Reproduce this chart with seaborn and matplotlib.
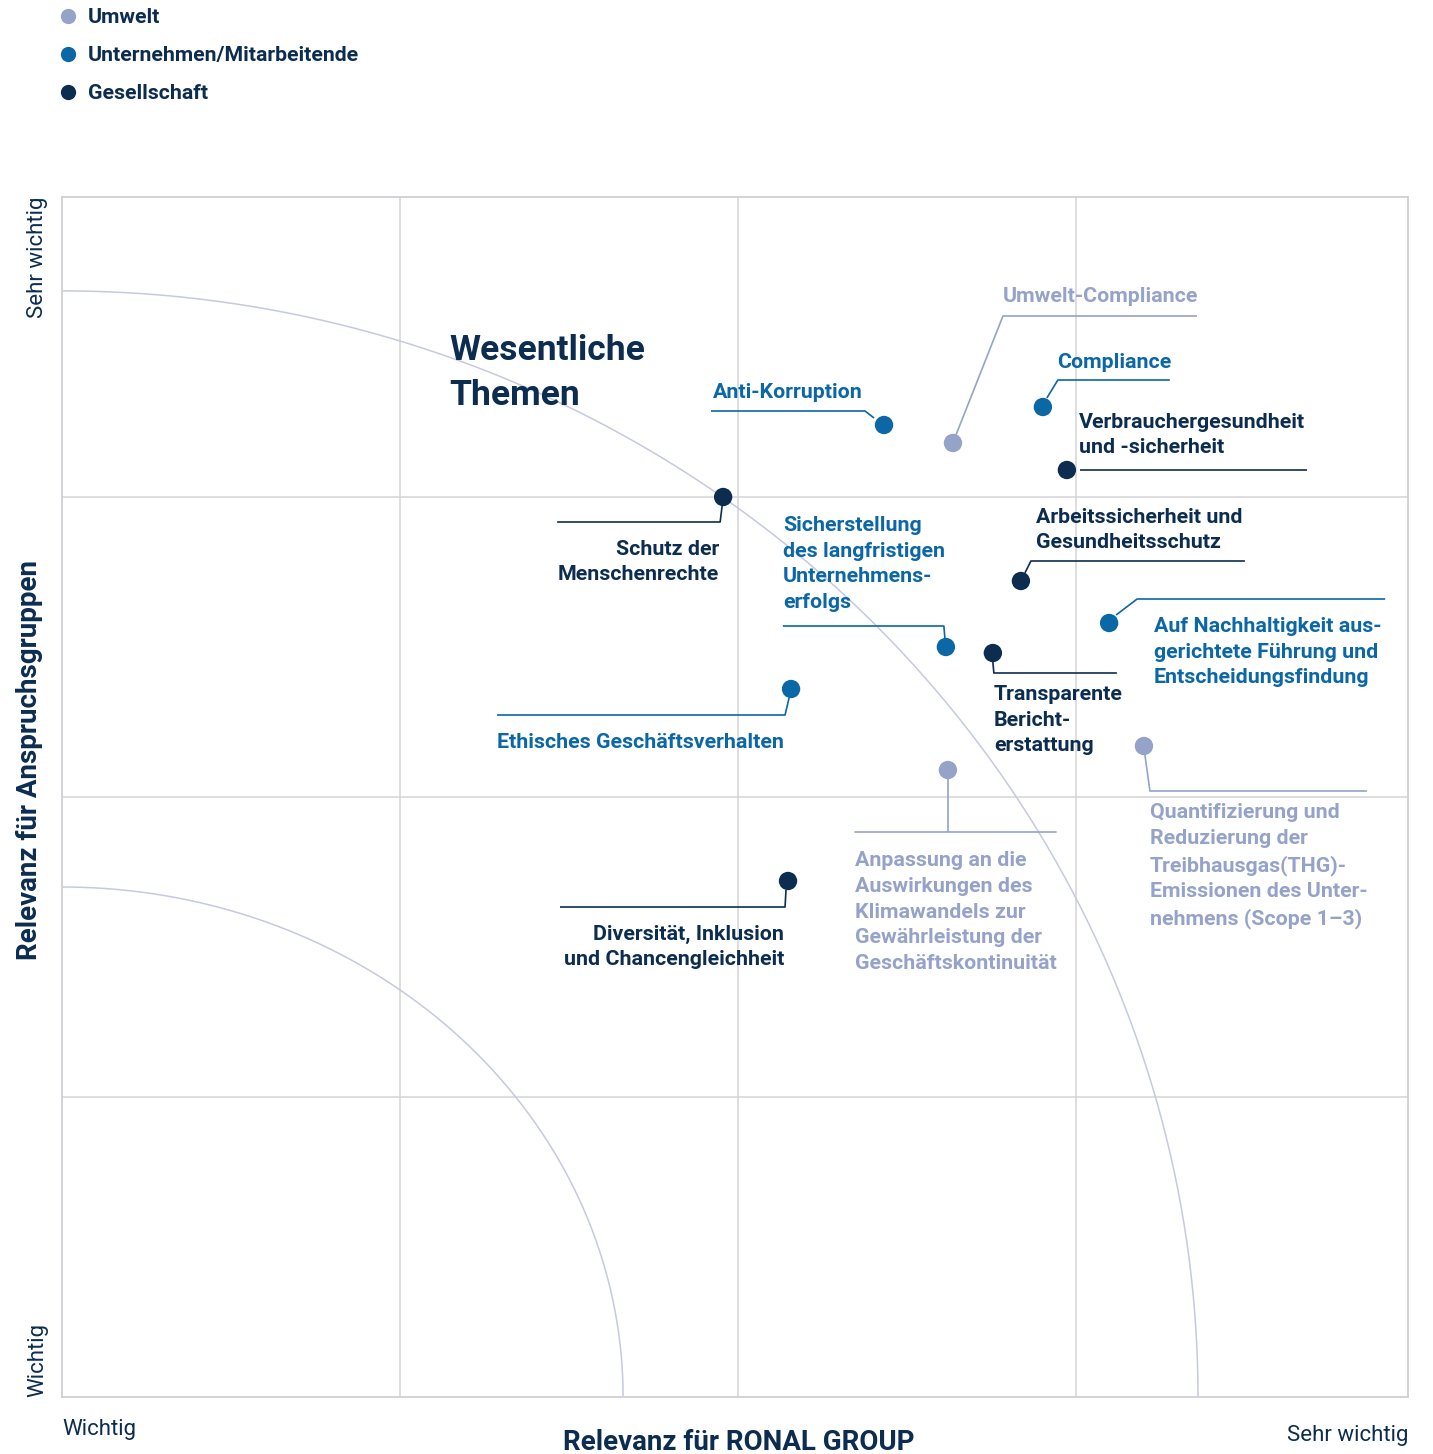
import numpy as np
import pandas as pd
import matplotlib
matplotlib.use("Agg")
import matplotlib.pyplot as plt
import seaborn as sns

# ---------------- data ----------------
topics = [
    "Umwelt-Compliance",
    "Compliance",
    "Anti-Korruption",
    "Verbrauchergesundheit\nund -sicherheit",
    "Schutz der\nMenschenrechte",
    "Sicherstellung\ndes langfristigen\nUnternehmens-\nerfolgs",
    "Arbeitssicherheit und\nGesundheitsschutz",
    "Auf Nachhaltigkeit aus-\ngerichtete Führung und\nEntscheidungsfindung",
    "Transparente\nBericht-\nerstattung",
    "Ethisches Geschäftsverhalten",
    "Anpassung an die\nAuswirkungen des\nKlimawandels zur\nGewährleistung der\nGeschäftskontinuität",
    "Quantifizierung und\nReduzierung der\nTreibhausgas(THG)-\nEmissionen des Unter-\nnehmens (Scope 1\u20133)",
    "Diversität, Inklusion\nund Chancengleichheit",
]
category = [
    "Umwelt", "Unternehmen/Mitarbeitende", "Unternehmen/Mitarbeitende", "Gesellschaft",
    "Gesellschaft", "Unternehmen/Mitarbeitende", "Gesellschaft", "Unternehmen/Mitarbeitende",
    "Gesellschaft", "Unternehmen/Mitarbeitende", "Umwelt", "Umwelt", "Gesellschaft",
]
relevanz_ronal = [2.636, 2.902, 2.432, 2.973, 1.956, 2.615, 2.837, 3.098, 2.754, 2.157, 2.621, 3.201, 2.148]
relevanz_anspruch = [3.18, 3.30, 3.24, 3.09, 3.00, 2.50, 2.72, 2.58, 2.48, 2.36, 2.09, 2.17, 1.72]
categories = ["Umwelt", "Unternehmen/Mitarbeitende", "Gesellschaft"]
colors = ["#95a3c9", "#0b67a5", "#0c2d50"]

df = pd.DataFrame({"topic": topics, "cat": category,
                   "x": relevanz_ronal, "y": relevanz_anspruch})

# ---------------- layout ----------------
W, H = 1433, 1454
L, R, T, B = 62, 1408, 197, 1397
PXX = 338.0
PXY = (B - T) / 4.0
XMAX = (R - L) / PXX
NAVY = "#0c2d50"

sns.set_theme(style="white")
plt.rcParams["font.family"] = ["Roboto", "DejaVu Sans"]

fig = plt.figure(figsize=(W / 100, H / 100), dpi=100)
ax = fig.add_axes([L / W, 1 - B / H, (R - L) / W, (B - T) / H])
ax.set_xlim(0, XMAX)
ax.set_ylim(0, 4)
ax.set_xticks([1, 2, 3])
ax.set_yticks([1, 2, 3])
ax.set_xticklabels([])
ax.set_yticklabels([])
ax.tick_params(length=0)
ax.grid(True, color="#d4d4d8", lw=1.1)
for s in ax.spines.values():
    s.set_color("#d0d0d4")
    s.set_linewidth(1.3)

# arcs (threshold curves)
t = np.linspace(0, np.pi / 2, 300)
for rx, ry in [(3.361, 3.687), (1.660, 1.70)]:
    ax.plot(rx * np.cos(t), ry * np.sin(t), color="#c5c9e2", lw=1.1, zorder=1)

pal = dict(zip(categories, colors))
sns.scatterplot(data=df, x="x", y="y", hue="cat", hue_order=categories,
                palette=pal, s=175, edgecolor="none", ax=ax, zorder=5, legend=True)
ax.set_xlabel("")
ax.set_ylabel("")

# legend
leg = ax.legend(loc="upper left", bbox_to_anchor=(55 / W, 1 - 8 / H),
                bbox_transform=fig.transFigure, frameon=False,
                handletextpad=0.35, labelspacing=0.9, borderpad=0, borderaxespad=0,
                handlelength=1.2, prop={"weight": "bold", "size": 15.3})
for txt in leg.get_texts():
    txt.set_color(NAVY)
for h in leg.legend_handles:
    try:
        h.set_markersize(11)
    except AttributeError:
        pass

# leader lines: offsets in pixels from the point (y down), text offset, alignment
leaders = [
    ([(3, -8), (50, -127), (244, -127)], (50, -146), "left"),
    ([(4, -9), (15, -27), (127, -27)], (14, -44), "left"),
    ([(-10, -7), (-19, -14), (-173, -14)], (-171, -32), "left"),
    ([(13, 0), (240, 0)], (12, -35), "left"),
    ([(-1, 9), (-3, 25), (-166, 25)], (-4, 65), "right"),
    ([(-1, -9), (-2, -21), (-163, -21)], (-163, -83), "left"),
    ([(4, -8), (10, -20), (224, -20)], (15, -51), "left"),
    ([(7, -8), (28, -24), (276, -24)], (45, 29), "left"),
    ([(0, 9), (1, 20), (124, 20)], (1, 67), "left"),
    ([(-2, 9), (-6, 26), (-294, 26)], (-294, 53), "left"),
    ([(0, 9), (0, 62)], (-93, 142), "left"),
    ([(1, 9), (6, 45), (223, 45)], (6, 120), "left"),
    ([(-2, 9), (-3, 26), (-228, 26)], (-4, 66), "right"),
]
extra_lines = {10: [(-93, 62), (108, 62)]}

for i, row in df.iterrows():
    c = pal[row["cat"]]
    path, toff, ha = leaders[i]
    xs = [row["x"] + dx / PXX for dx, dy in path]
    ys = [row["y"] - dy / PXY for dx, dy in path]
    ax.plot(xs, ys, color=c, lw=1.2, zorder=3, solid_capstyle="butt")
    if i in extra_lines:
        ex = [row["x"] + dx / PXX for dx, dy in extra_lines[i]]
        ey = [row["y"] - dy / PXY for dx, dy in extra_lines[i]]
        ax.plot(ex, ey, color=c, lw=1.2, zorder=3)
    ax.text(row["x"] + toff[0] / PXX, row["y"] - toff[1] / PXY, row["topic"],
            ha=ha, va="center", color=c, fontsize=15.4, fontweight="bold",
            linespacing=1.45, zorder=6)

# title inside
ax.text((449 - L) / PXX, (B - 373) / PXY, "Wesentliche\nThemen", ha="left", va="center",
        color=NAVY, fontsize=25.5, fontweight="bold", linespacing=1.45)

# axis annotations
fig.text(38 / W, 1 - T / H, "Sehr wichtig", rotation=90, ha="center", va="top",
         color=NAVY, fontsize=16)
fig.text(38 / W, 1 - B / H, "Wichtig", rotation=90, ha="center", va="bottom",
         color=NAVY, fontsize=16)
fig.text(L / W, 1 - 1429 / H, "Wichtig", ha="left", va="center", color=NAVY, fontsize=16)
fig.text(R / W, 1 - 1435 / H, "Sehr wichtig", ha="right", va="center", color=NAVY, fontsize=16)
fig.text(739 / W, 1 - 1443 / H, "Relevanz für RONAL GROUP", ha="center", va="center",
         color=NAVY, fontsize=20, fontweight="bold")
fig.text(30 / W, 1 - 760 / H, "Relevanz für Anspruchsgruppen", rotation=90, ha="center",
         va="center", color=NAVY, fontsize=20, fontweight="bold")

fig.savefig("out.png", dpi=100, facecolor="white")
